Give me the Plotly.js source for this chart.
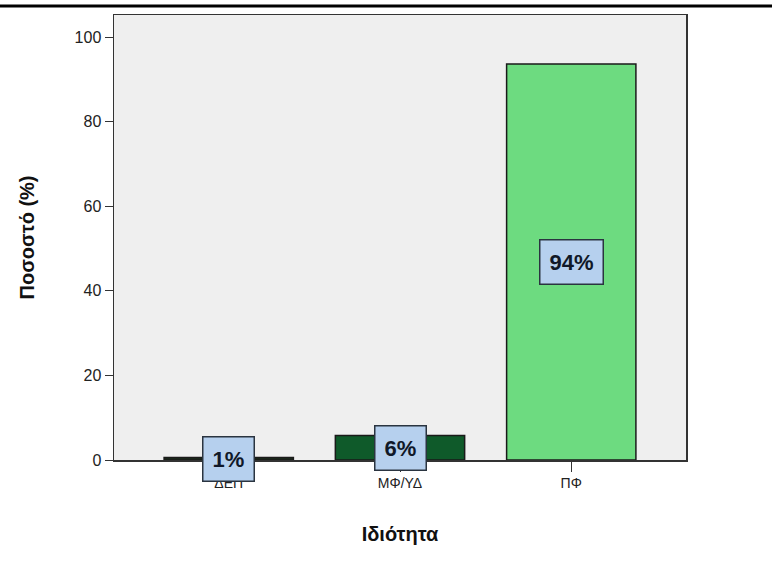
<!DOCTYPE html>
<html><head><meta charset="utf-8">
<script src="https://cdn.plot.ly/plotly-3.0.1.min.js"></script>
<style>html,body{margin:0;padding:0;background:#fff;}#c{width:772px;height:569px;}</style>
</head><body><div id="c"></div>
<script>
const categories = ['ΔΕΠ', 'ΜΦ/ΥΔ', 'ΠΦ'];
const values = [0.6, 5.8, 93.6];
const labels = ['1%', '6%', '94%'];
const barColors = ['#1a2a1a', '#0f5a2a', '#6ddb80'];
const yTicks = [0, 20, 40, 60, 80, 100];

const trace = {
  type: 'bar', x: categories, y: values,
  marker: {color: barColors, line: {color: '#1a1a1a', width: 1.5}},
  width: 0.755, hoverinfo: 'none'
};
const annotations = categories.map((c, i) => ({
  x: c, y: values[i] / 2, xref: 'x', yref: 'y', text: '<b>' + labels[i] + '</b>',
  showarrow: false, bgcolor: '#b6d0ee', bordercolor: '#2a3440', borderwidth: 1.5,
  borderpad: 9, font: {family: 'Arial, Liberation Sans', size: 22, color: '#101828'}
}));
const layout = {
  width: 772, height: 569,
  margin: {l: 114, r: 86, t: 15, b: 109},
  paper_bgcolor: '#ffffff', plot_bgcolor: '#efefef',
  showlegend: false,
  xaxis: {
    range: [-0.67, 2.67], showline: true, linecolor: '#333', linewidth: 1.5, mirror: true,
    ticks: 'outside', ticklen: 10, tickcolor: '#333', showgrid: false,
    tickfont: {family: 'Arial, Liberation Sans', size: 14, color: '#222'},
    title: {text: '<b>Ιδιότητα</b>', font: {family: 'Arial, Liberation Sans', size: 20, color: '#111'}, standoff: 36}
  },
  yaxis: {
    range: [0, 105.2], showline: true, linecolor: '#333', linewidth: 1.5, mirror: true,
    ticks: 'outside', ticklen: 8, tickcolor: '#333', showgrid: false, zeroline: false,
    tickvals: yTicks, ticktext: yTicks.map(String),
    tickfont: {family: 'Arial, Liberation Sans', size: 16, color: '#222'},
    title: {text: '<b>Ποσοστό (%)</b>', font: {family: 'Arial, Liberation Sans', size: 20, color: '#111'}, standoff: 34}
  },
  annotations: annotations,
  shapes: [{type: 'line', xref: 'paper', yref: 'paper', x0: -114/572, x1: (772-114)/572,
            y0: 1 + 9/445, y1: 1 + 9/445, line: {color: '#000', width: 3}}]
};
Plotly.newPlot('c', [trace], layout, {displayModeBar: false, staticPlot: true});
</script></body></html>
